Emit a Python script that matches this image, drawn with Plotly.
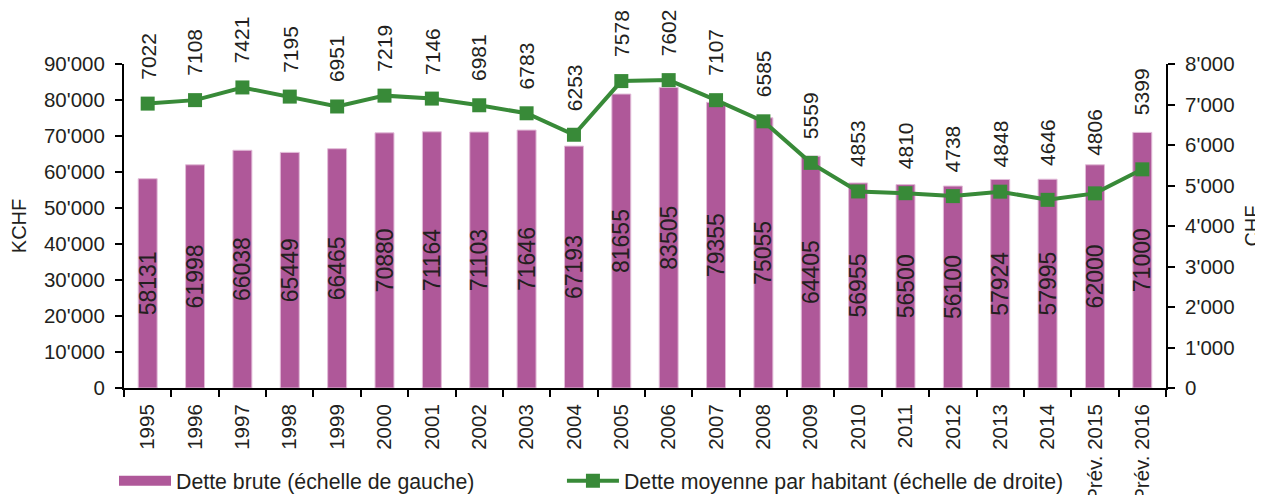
import plotly.graph_objects as go

categories = ["1995", "1996", "1997", "1998", "1999", "2000", "2001", "2002", "2003", "2004",
              "2005", "2006", "2007", "2008", "2009", "2010", "2011", "2012", "2013", "2014",
              "Prév. 2015", "Prév. 2016"]
dette_brute = [58131, 61998, 66038, 65449, 66465, 70880, 71164, 71103, 71646, 67193,
               81655, 83505, 79355, 75055, 64405, 56955, 56500, 56100, 57924, 57995,
               62000, 71000]
dette_habitant = [7022, 7108, 7421, 7195, 6951, 7219, 7146, 6981, 6783, 6253,
                  7578, 7602, 7107, 6585, 5559, 4853, 4810, 4738, 4848, 4646,
                  4806, 5399]

name_bar = "Dette brute (échelle de gauche)"
name_line = "Dette moyenne par habitant (échelle de droite)"

BAR_COLOR = "#AF5899"
LINE_COLOR = "#388A38"
TEXT_COLOR = "#231F20"
FONT = "Liberation Sans, Arial, sans-serif"

# extra upward nudge (px) of a few line labels, lifted clear of the bars
label_nudge = {"2014": 10, "Prév. 2015": 14, "Prév. 2016": 30}

fig = go.Figure()

fig.add_trace(go.Bar(
    x=categories, y=dette_brute, name=name_bar,
    marker=dict(color=BAR_COLOR, line=dict(color="#E2BCD8", width=1)),
    width=0.4,
    text=[str(v) for v in dette_brute],
    textposition="inside", insidetextanchor="middle", textangle=-90,
    constraintext="none",
    textfont=dict(size=23, color=TEXT_COLOR, family=FONT),
    showlegend=False,
))

# legend-only entry mimicking the wide bar swatch
fig.add_trace(go.Scatter(
    x=[None], y=[None], mode="lines", name=name_bar,
    line=dict(color=BAR_COLOR, width=11), showlegend=True, legend="legend",
))

fig.add_trace(go.Scatter(
    x=categories, y=dette_habitant, name=name_line, yaxis="y2",
    mode="lines+markers",
    line=dict(color=LINE_COLOR, width=4),
    marker=dict(symbol="square", size=14, color=LINE_COLOR),
    legend="legend2",
))

# per-point value labels above the line (x given as category index)
for i, (c, v) in enumerate(zip(categories, dette_habitant)):
    fig.add_annotation(
        x=i, y=v, xref="x", yref="y2", text=str(v), showarrow=False,
        textangle=-90, yanchor="bottom", yshift=22 + label_nudge.get(c, 0),
        font=dict(size=21, color=TEXT_COLOR, family=FONT),
    )

legend_common = dict(
    orientation="h", y=-0.287, yanchor="middle", xanchor="left",
    font=dict(size=21.3), itemwidth=52, bgcolor="rgba(0,0,0,0)",
)

# the page body adds an 8px offset, so the figure is 8px smaller than the window
fig.update_layout(
    width=1255, height=487, autosize=False,
    margin=dict(l=116, r=97, t=56, b=107, autoexpand=False),
    paper_bgcolor="white", plot_bgcolor="white",
    font=dict(family=FONT, size=20, color=TEXT_COLOR),
    separators=".'",
    bargap=0.6,
    xaxis=dict(
        type="category", showline=True, linecolor="black", linewidth=2,
        ticks="outside", tickson="boundaries", ticklen=7, tickwidth=2, tickcolor="black",
        tickangle=-90, tickfont=dict(size=20.5), showgrid=False, automargin=False,
        ticklabelstandoff=6,
        range=[-0.5, len(categories) - 0.5],
    ),
    yaxis=dict(
        range=[0, 90000], dtick=10000, tickformat=",d",
        showline=True, linecolor="black", linewidth=2,
        ticks="outside", ticklen=7, tickwidth=2, tickcolor="black",
        showgrid=False, zeroline=False, tickfont=dict(size=20.5), automargin=False,
        ticklabelstandoff=6,
        title=dict(text="KCHF", font=dict(size=20), standoff=17),
    ),
    yaxis2=dict(
        range=[0, 8000], dtick=1000, tickformat=",d",
        overlaying="y", side="right",
        showline=True, linecolor="black", linewidth=2,
        ticks="outside", ticklen=7, tickwidth=2, tickcolor="black",
        showgrid=False, zeroline=False, tickfont=dict(size=20.5), automargin=False,
        ticklabelstandoff=6,
        title=dict(text="CHF", font=dict(size=20), standoff=11),
    ),
    legend=dict(x=-0.0096, **legend_common),
    legend2=dict(x=0.4203, **legend_common),
)

fig.write_html("out.html")
